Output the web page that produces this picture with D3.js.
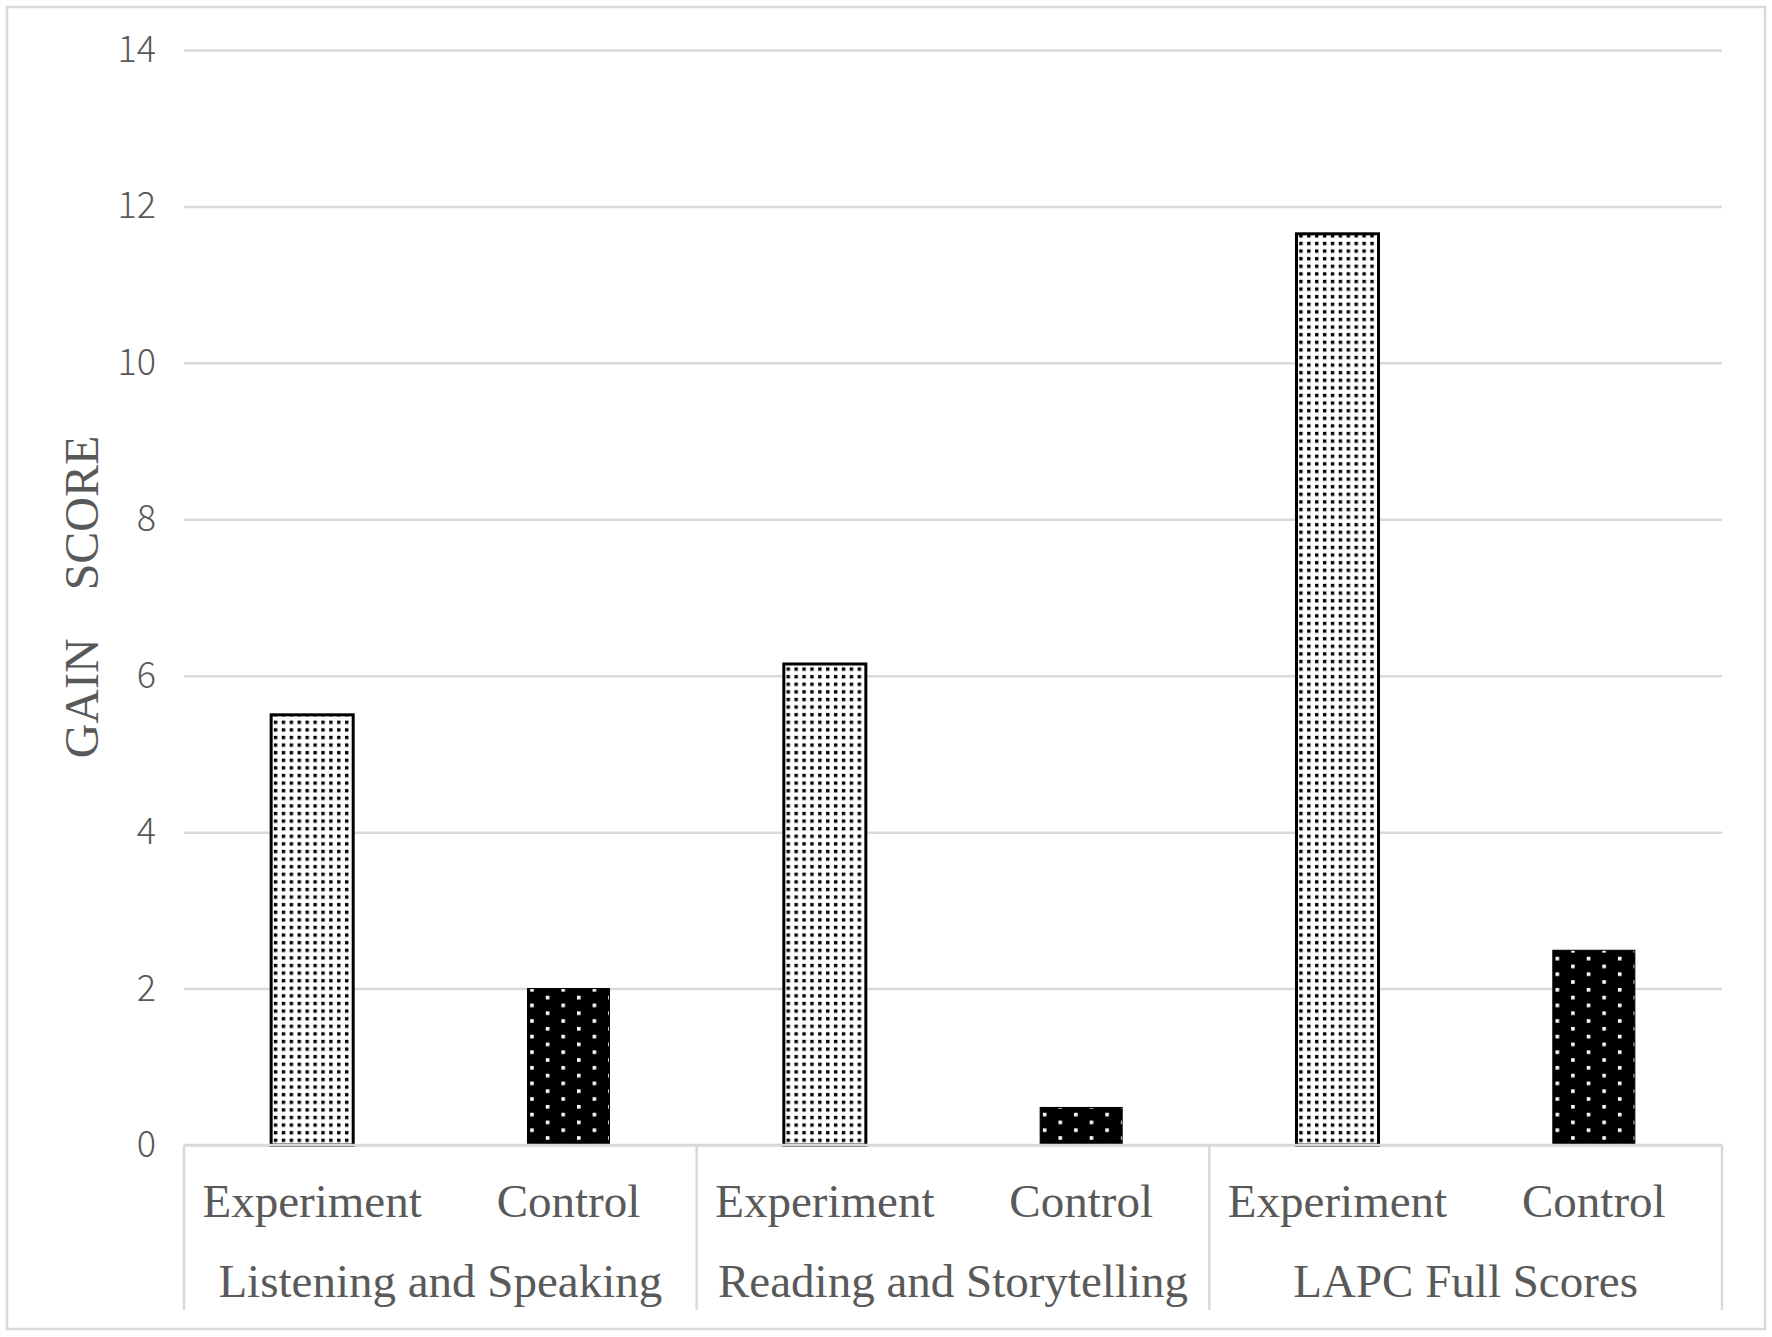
<!DOCTYPE html>
<html>
<head>
<meta charset="utf-8">
<script src="https://cdn.jsdelivr.net/npm/d3@7"></script>
<style>
  html, body { margin: 0; padding: 0; background: #fff; }
  svg { display: block; }
</style>
</head>
<body>
<div id="viz"></div>
<script>
var width = 1772;
var height = 1337;

// data
var groups = ["Listening and Speaking", "Reading and Storytelling", "LAPC Full Scores"];
var conditions = ["Experiment", "Control"];
var experimentValues = [5.5, 6.15, 11.65];
var controlValues = [2.0, 0.48, 2.49];
var yTicks = [0, 2, 4, 6, 8, 10, 12, 14];

var margin = {top: 50, right: 50, bottom: 192, left: 184};
var plotW = width - margin.left - margin.right;
var plotH = height - margin.top - margin.bottom;

var svg = d3.select("#viz")
    .append("svg")
    .attr("width", width)
    .attr("height", height);

// fill patterns
var defs = svg.append("defs");

var pExp = defs.append("pattern")
    .attr("id", "dotsExp")
    .attr("patternUnits", "userSpaceOnUse")
    .attr("width", 7.9)
    .attr("height", 7.6)
    .attr("x", 1);
pExp.append("rect").attr("width", 7.9).attr("height", 7.6).attr("fill", "#fff");
pExp.append("rect").attr("x", 2).attr("y", 1.8).attr("width", 3.4).attr("height", 3.4).attr("fill", "#000");

var pCtl = defs.append("pattern")
    .attr("id", "dotsCtl")
    .attr("patternUnits", "userSpaceOnUse")
    .attr("width", 31.2)
    .attr("height", 15.6)
    .attr("x", 3);
pCtl.append("rect").attr("width", 31.2).attr("height", 15.6).attr("fill", "#000");
pCtl.append("rect").attr("x", 0).attr("y", 2).attr("width", 3.6).attr("height", 3.6).attr("fill", "#fff");
pCtl.append("rect").attr("x", 15.6).attr("y", 9.8).attr("width", 3.6).attr("height", 3.6).attr("fill", "#fff");

// outer frame
svg.append("rect")
    .attr("x", 7)
    .attr("y", 7)
    .attr("width", width - 14)
    .attr("height", 1322)
    .attr("fill", "none")
    .attr("stroke", "#d9d9d9")
    .attr("stroke-width", 2.5);

var g = svg.append("g")
    .attr("transform", "translate(" + margin.left + "," + margin.top + ")");

var y = d3.scaleLinear()
    .domain([0, 14])
    .range([plotH, 0]);

var x0 = d3.scaleBand()
    .domain(groups)
    .range([0, plotW]);

var x1 = d3.scaleBand()
    .domain(conditions)
    .range([0, x0.bandwidth()])
    .paddingInner(0.68)
    .paddingOuter(0.34);

// y axis with gridlines
var yAxis = g.append("g")
    .call(d3.axisLeft(y)
        .tickValues(yTicks)
        .tickSize(-plotW)
        .tickPadding(28));

yAxis.select(".domain").remove();
yAxis.selectAll(".tick line")
    .attr("stroke", "#d9d9d9")
    .attr("stroke-width", 2.5);
yAxis.selectAll(".tick text")
    .attr("fill", "#595959")
    .style("font-family", "'Noto Sans CJK SC', 'Noto Sans', sans-serif")
    .style("font-weight", 300)
    .style("font-size", "36px");

// y title
g.append("text")
    .attr("transform", "translate(" + (98 - margin.left) + "," + (597 - margin.top) + ") rotate(-90)")
    .attr("text-anchor", "middle")
    .attr("fill", "#595959")
    .style("font-family", "'Liberation Serif', 'Times New Roman', serif")
    .style("font-size", "48px")
    .style("white-space", "pre")
    .text("GAIN    SCORE");

// bars
var rows = groups.map(function(name, i) {
  return {group: name, values: [
    {cond: "Experiment", value: experimentValues[i]},
    {cond: "Control", value: controlValues[i]}
  ]};
});

var gg = g.selectAll("g.grp")
    .data(rows)
    .enter()
    .append("g")
    .attr("class", "grp")
    .attr("transform", function(d) { return "translate(" + x0(d.group) + ",0)"; });

gg.selectAll("rect")
    .data(function(d) { return d.values; })
    .enter()
    .append("rect")
    .attr("x", function(d) { return x1(d.cond); })
    .attr("y", function(d) { return y(d.value); })
    .attr("width", x1.bandwidth())
    .attr("height", function(d) { return plotH - y(d.value); })
    .attr("fill", function(d) { return d.cond === "Experiment" ? "url(#dotsExp)" : "url(#dotsCtl)"; })
    .attr("stroke", "#000")
    .attr("stroke-width", function(d) { return d.cond === "Experiment" ? 3 : 1; });

// baseline
g.append("line")
    .attr("x1", 0)
    .attr("x2", plotW)
    .attr("y1", plotH)
    .attr("y2", plotH)
    .attr("stroke", "#d9d9d9")
    .attr("stroke-width", 2.5);

// group separators
var seps = groups.map(function(d) { return x0(d); }).concat([plotW]);
g.selectAll("line.sep")
    .data(seps)
    .enter()
    .append("line")
    .attr("class", "sep")
    .attr("x1", function(d) { return d; })
    .attr("x2", function(d) { return d; })
    .attr("y1", plotH)
    .attr("y2", plotH + 165)
    .attr("stroke", "#d9d9d9")
    .attr("stroke-width", 2.5);

// category labels
gg.selectAll("text.cond")
    .data(function(d) { return d.values; })
    .enter()
    .append("text")
    .attr("class", "cond")
    .attr("x", function(d) { return x1(d.cond) + x1.bandwidth() / 2; })
    .attr("y", plotH + 72)
    .attr("text-anchor", "middle")
    .attr("fill", "#595959")
    .style("font-family", "'Liberation Serif', 'Times New Roman', serif")
    .style("font-size", "47px")
    .text(function(d) { return d.cond; });

gg.append("text")
    .attr("x", x0.bandwidth() / 2)
    .attr("y", plotH + 152)
    .attr("text-anchor", "middle")
    .attr("fill", "#595959")
    .style("font-family", "'Liberation Serif', 'Times New Roman', serif")
    .style("font-size", "47px")
    .text(function(d) { return d.group; });
</script>
</body>
</html>
